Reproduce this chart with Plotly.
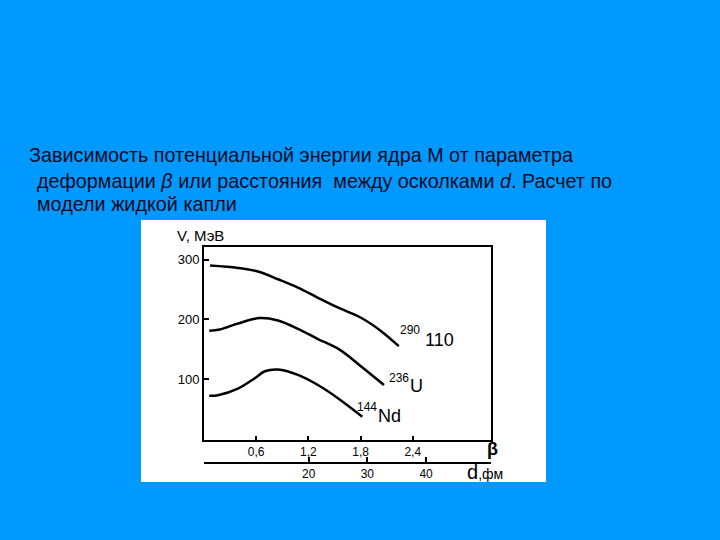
import plotly.graph_objects as go

# ---- data ----
beta_110 = [0.07, 0.39, 0.62, 0.85, 1.08, 1.31, 1.55, 1.80, 2.03, 2.24]
V_110 = [290, 286, 280, 267, 253, 236, 219, 203, 181, 155]

beta_U = [0.06, 0.18, 0.39, 0.64, 0.85, 1.08, 1.31, 1.55, 1.80, 2.07]
V_U = [181, 183, 193, 202, 198, 184, 167, 150, 122, 90]

beta_Nd = [0.06, 0.16, 0.39, 0.58, 0.70, 0.85, 1.08, 1.31, 1.54, 1.82]
V_Nd = [72, 73, 84, 101, 113, 116, 107, 90, 68, 37]

beta_ticks = [0.6, 1.2, 1.8, 2.4]
beta_ticktext = ["0,6", "1,2", "1,8", "2,4"]
d_ticks = [20, 30, 40]
d_ticktext = ["20", "30", "40"]
V_ticks = [100, 200, 300]
V_ticktext = ["100", "200", "300"]

title_lines = [
    "Зависимость потенциальной энергии ядра М от параметра",
    "деформации <i>β</i> или расстояния  между осколками <i>d</i>. Расчет по",
    "модели жидкой капли",
]

BG = "#0099FF"
INK = "black"
FONT = "Liberation Sans, Arial, sans-serif"

# layout geometry in pixels
L, R, T, B = 204, 229, 247, 77
W, H = 720, 540
PW, PH = W - L - R, H - T - B


def px(x):
    return (x - L) / PW


def py(y):
    return (H - B - y) / PH


fig = go.Figure()
for xs, ys in [(beta_110, V_110), (beta_U, V_U), (beta_Nd, V_Nd)]:
    fig.add_trace(go.Scatter(x=xs, y=ys, mode="lines",
                             line=dict(color=INK, width=2.5, shape="spline", smoothing=1.0),
                             showlegend=False, hoverinfo="skip"))

# invisible trace for the d axis
fig.add_trace(go.Scatter(x=[d_ticks[0]], y=[0], xaxis="x2", mode="markers",
                         marker=dict(opacity=0), showlegend=False, hoverinfo="skip"))

y_dom0 = py(440)
TICKFONT = dict(size=12, color=INK, family=FONT)

fig.update_layout(
    width=W, height=H,
    margin=dict(l=L, r=R, t=T, b=B, pad=0),
    paper_bgcolor=BG, plot_bgcolor="white",
    font=dict(family=FONT, color=INK),
    xaxis=dict(range=[0, 3.3], anchor="y", showline=True, linecolor=INK, linewidth=2,
               mirror=True, ticks="inside", ticklen=4, tickwidth=1.5, tickcolor=INK,
               tickvals=beta_ticks, ticktext=beta_ticktext, showgrid=False, zeroline=False,
               tickfont=TICKFONT),
    xaxis2=dict(range=[2.17, 51.06], overlaying="x", anchor="free", position=0, side="bottom",
                showline=True, linecolor=INK, linewidth=1.5, ticks="inside", ticklen=5,
                tickwidth=1.5, tickcolor=INK, tickvals=d_ticks, ticktext=d_ticktext,
                showgrid=False, zeroline=False, tickfont=TICKFONT),
    yaxis=dict(range=[-2, 321], domain=[y_dom0, 1], showline=True, linecolor=INK, linewidth=2,
               mirror=True, ticks="inside", ticklen=5, tickwidth=1.5, tickcolor=INK,
               tickvals=V_ticks, ticktext=V_ticktext, showgrid=False, zeroline=False,
               tickfont=dict(size=13, color=INK, family=FONT)),
)

# white sheet behind the plot
fig.add_shape(type="rect", xref="paper", yref="paper", x0=px(141), x1=px(546),
              y0=py(482), y1=py(220), fillcolor="white", line=dict(width=0), layer="below")

ann = []
# title lines
for txt, x, y in zip(title_lines, [27, 35, 35], [155, 181, 204]):
    ann.append(dict(text=txt, x=px(x), y=py(y), xref="paper", yref="paper",
                    xanchor="left", yanchor="middle", showarrow=False,
                    font=dict(size=19.8, color="#0a0a1e", family=FONT)))
# axis labels
ann.append(dict(text="V, МэВ", x=px(175), y=py(235), xref="paper", yref="paper",
                xanchor="left", yanchor="middle", showarrow=False,
                font=dict(size=15, color=INK, family=FONT)))
ann.append(dict(text="<b>β</b>", x=px(492), y=py(449), xref="paper", yref="paper",
                xanchor="center", yanchor="middle", showarrow=False,
                font=dict(size=18, color=INK, family=FONT)))
ann.append(dict(text="<span style='font-size:20px'>d</span>,фм", x=px(465), y=py(472),
                xref="paper", yref="paper", xanchor="left", yanchor="middle", showarrow=False,
                font=dict(size=14, color=INK, family=FONT)))
# curve labels
for txt, x, y, s in [("290", 410, 330, 12), ("110", 439, 340, 18),
                     ("236", 399, 378, 12), ("U", 416, 386, 18),
                     ("144", 367, 407, 12), ("Nd", 389, 416, 18)]:
    ann.append(dict(text=txt, x=px(x), y=py(y), xref="paper", yref="paper",
                    xanchor="center", yanchor="middle", showarrow=False,
                    font=dict(size=s, color=INK, family=FONT)))

fig.update_layout(annotations=ann)
fig.write_html("out.html", config={"displayModeBar": False},
               post_script="document.body.style.margin='0';")
